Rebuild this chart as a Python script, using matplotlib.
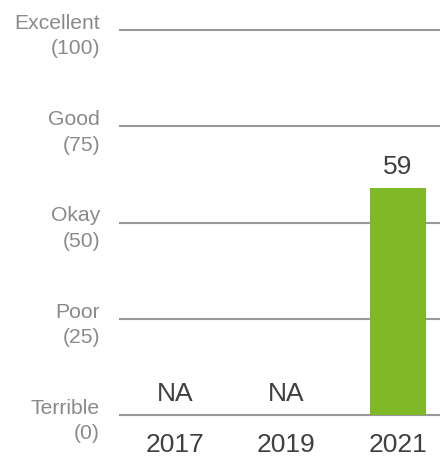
import matplotlib.pyplot as plt
import numpy as np

years = ['2017', '2019', '2021']
scores = [None, None, 59]
tick_values = [0, 25, 50, 75, 100]
tick_labels = ['Terrible\n(0)', 'Poor\n(25)', 'Okay\n(50)', 'Good\n(75)', 'Excellent\n(100)']

plt.rcParams['font.family'] = ['Liberation Sans', 'DejaVu Sans']

fig = plt.figure(figsize=(4.4, 4.64), dpi=100)
ax = fig.add_axes([120 / 440, 48 / 464, 320 / 440, 385 / 464])

x = np.arange(len(years))
heights = [s if s is not None else 0 for s in scores]
ax.bar(x, heights, width=0.5, color='#80b928', zorder=3)

for v in tick_values:
    ax.axhline(v, color='#999999', linewidth=1.5, zorder=2, clip_on=False)

for xi, s in zip(x, scores):
    if s is None:
        label, base = 'NA', 0
    else:
        label, base = str(s), s
    ax.annotate(label, (xi, base), xytext=(0, 11), textcoords='offset points',
                ha='center', va='baseline', fontsize=19, color='#404040')

ax.set_xlim(-0.493, 2.377)
ax.set_ylim(0, 100)
ax.set_xticks(x)
ax.set_xticklabels(years, fontsize=19, color='#404040')
ax.set_yticks(tick_values)
ax.set_yticklabels(tick_labels, fontsize=15.2, color='#8a8a8a', linespacing=1.42)
ax.tick_params(axis='y', length=0, pad=14.4)
ax.tick_params(axis='x', length=0, pad=12.5)
for sp in ax.spines.values():
    sp.set_visible(False)

fig.savefig('out.png', dpi=100)
